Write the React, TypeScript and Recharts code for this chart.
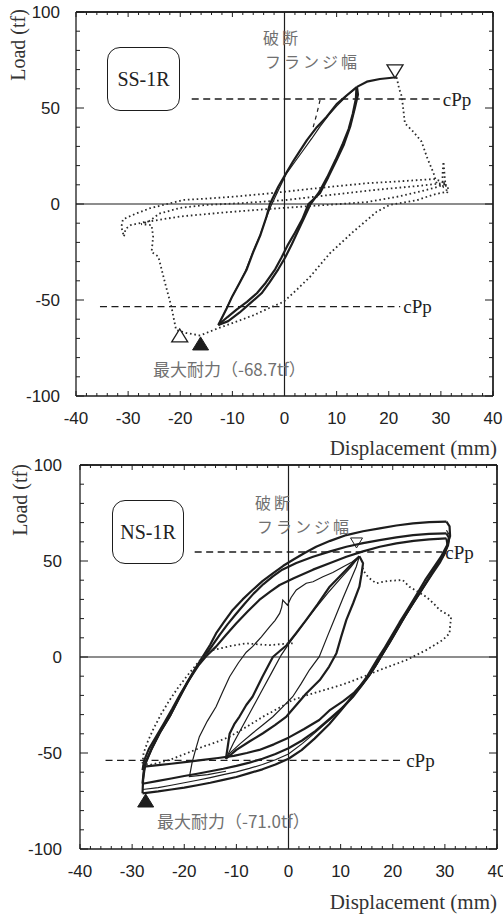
import React from 'react';
import { ScatterChart, Scatter, XAxis, YAxis, ReferenceLine } from 'recharts';

type Pair = [number, number];

// axis ticks (mm on x, tf on y)
const X_LABELS = [-40, -30, -20, -10, 0, 10, 20, 30, 40];
const Y_LABELS = [-100, -50, 0, 50, 100];
const X_TICKS: number[] = [];
for (let v = -40; v <= 40; v += 2) X_TICKS.push(v);
const Y_TICKS: number[] = [];
for (let v = -100; v <= 100; v += 10) Y_TICKS.push(v);
// corners of the frame, keeps the top / right axes alive
const FRAME: Pair[] = [[-40, -100], [40, 100]];

// ---------- SS-1R ----------
const ssUp1: Pair[] = [
  [-12.7, -63], [-11.2, -55], [-10, -48], [-8.6, -41], [-7.3, -34.4], [-6, -25], [-4.6, -16], [-3.5, -7],
  [-2.8, 0], [-1.2, 9], [0.3, 16], [1.6, 22], [2.8, 27], [4.3, 33.3], [6.2, 40], [8.1, 45.5], [10, 52],
  [11.9, 56.5], [13.9, 61],
];
const ssDown1: Pair[] = [
  [13.9, 61], [14.1, 57], [13.5, 50], [12.6, 40.3], [11.4, 31], [10, 22.9], [8.4, 14], [6.8, 5.6], [4.6, 0],
  [3.4, -8], [2, -15], [0.7, -21], [-0.6, -28], [-1.8, -34], [-3.6, -41], [-5.3, -46.5], [-7.2, -51],
  [-9.2, -55], [-11, -59], [-12.7, -63],
];
const ssUp2: Pair[] = [
  [-12.7, -63], [-11.4, -56], [-10.2, -49], [-8.8, -42], [-7.5, -35], [-6.2, -26], [-4.8, -17], [-3.6, -8],
  [-2.6, -1], [-1.2, 7], [0.4, 16], [2, 22], [3.6, 28], [5.2, 34], [6.8, 40.3], [8.4, 46], [10, 51],
  [12, 56.5], [13.8, 60.5],
];
const ssDown2: Pair[] = [
  [13.8, 60.5], [13.7, 55], [13.1, 47], [12.3, 39], [11.2, 31.5], [9.8, 23], [8.2, 14], [6.6, 6], [5, 0],
  [3.8, -7], [2.6, -14], [1.4, -21], [0.1, -28], [-1.2, -34], [-2.9, -41], [-4.4, -46.5], [-6.5, -51.5],
  [-8.6, -56.5], [-10.8, -61], [-12.7, -63],
];
const ssPeak: Pair[] = [[13.9, 61], [15.8, 63.7], [18.3, 65.1], [21.5, 66]];
const ssDash: Pair[] = [[5.5, 40], [6.2, 47], [6.9, 55]];
const ssAfterBreak: Pair[] = [
  [21.5, 66], [22, 60], [22.5, 56], [23.1, 42], [24.7, 37.7], [26.3, 32.5], [27.3, 24.6], [28.6, 16],
  [29.2, 10.8], [30.4, 9], [30.3, 15], [30.5, 22], [30.8, 12], [31.2, 5.5], [31.4, 9], [30, 12], [28.6, 13],
  [22, 11.8], [15.8, 10.8], [9, 9], [3, 7.3], [-3, 5.5], [-9.8, 3.8], [-15, 2.8], [-19.4, 2.1], [-22.5, 0],
  [-25.8, -2.2], [-28.5, -5], [-31, -8], [-31.3, -12], [-30.8, -17], [-30.5, -13], [-29.5, -11],
  [-27, -9.5], [-20, -6.5], [-12, -4.5], [-5, -3], [0, -2], [8, -0.5], [15.8, 1], [22, 4], [26, 6.5],
  [28.6, 8.3], [30.5, 10], [31, 11], [26, 9.5], [18, 7.5], [8, 4.5], [0, 2], [-8, 0.5], [-15, -0.5],
  [-20, -2], [-24, -5], [-26, -9], [-27.5, -10.5], [-25.5, -11], [-25.2, -17], [-25.5, -25], [-24.2, -27.4],
  [-22.9, -41.3], [-21.7, -53.5], [-20.8, -65.6], [-18.8, -67.2], [-16.2, -68.5], [-13, -65], [-9.8, -61.8],
  [-6, -58], [-2.8, -54], [-0.2, -51], [2.3, -44.8], [4.9, -37.9], [8.7, -25.7], [13.2, -14.4], [17.7, -4],
  [20.2, -0.5], [25.4, 2], [28.6, 4.9], [31.1, 6.4],
];
const ssCppUpper: Pair[] = [[-17.8, 54.7], [29.8, 54.7]];
const ssCppLower: Pair[] = [[-35.4, -53.5], [22.2, -53.5]];

// ---------- NS-1R ----------
const nsUp1: Pair[] = [
  [-28, -71], [-27.9, -64], [-27.5, -56], [-26.3, -48], [-24.8, -40], [-22.8, -31], [-21.2, -22.5],
  [-19.6, -14], [-18, -6.5], [-16.5, 0], [-15, 6.5], [-13.9, 12.3], [-12.3, 18.5], [-10.7, 24.5], [-8.8, 30],
  [-6.9, 34.9], [-5, 39.5], [-3, 43.6], [-1, 47.5], [0.8, 50.5], [3, 54], [5.3, 57.4], [8, 60.5],
  [11.1, 63.5], [14.3, 65.5], [17.5, 67], [20.7, 68.5], [23.9, 69.6], [27, 70.2], [30.3, 70.5],
];
const nsDown1: Pair[] = [
  [30.3, 70.5], [30.9, 68], [31, 63], [30.4, 58], [29.2, 52], [27.7, 46], [26.2, 40], [24.7, 33], [22.9, 25],
  [21.3, 18], [19.8, 11], [18.5, 5], [17.3, 0], [16.2, -5], [15, -10.5], [13.5, -16], [11.8, -22], [10, -28],
  [7.8, -35], [5, -42.5], [2.5, -48.5], [0, -53], [-2.5, -56], [-5, -58.5], [-7.5, -60.5], [-10, -62.5],
  [-12.5, -64], [-15, -65.5], [-17.5, -66.8], [-20, -68], [-22.5, -69], [-25, -70], [-28, -71],
];
const nsUp2: Pair[] = [
  [-28, -66], [-27.8, -60], [-27.3, -54], [-26.1, -47], [-24.6, -39], [-22.6, -30], [-21, -21.5],
  [-19.3, -13], [-17.7, -5.5], [-16.1, 0.5], [-14.6, 6], [-13.2, 11.5], [-11.7, 17], [-10.2, 22],
  [-8.5, 27.5], [-6.7, 33], [-4.8, 38], [-3, 42], [-1.2, 45.5], [1.5, 49], [4.7, 52.2], [8, 55],
  [11.1, 57.4], [14.3, 59.3], [17.5, 60.9], [20.7, 62.3], [23.9, 63.5], [27, 64.1], [30.3, 64.4],
];
const nsDown2: Pair[] = [
  [30.3, 64.4], [30.8, 62], [30.6, 58], [29.7, 53], [28.3, 47], [26.7, 40], [25.1, 33], [23.4, 26],
  [21.7, 18.5], [20.2, 11.5], [18.9, 5.5], [17.7, 0], [16.6, -5], [15.4, -10], [14, -15], [12.3, -21],
  [10.3, -26.5], [8, -32], [5.2, -38.5], [2.6, -43.5], [0, -47.5], [-2.5, -50.5], [-5, -53], [-7.5, -55],
  [-10, -56.7], [-12.5, -58.2], [-15, -59.5], [-17.5, -60.8], [-20, -62], [-22.5, -63.3], [-25, -64.5],
  [-28, -66],
];
const nsUp3: Pair[] = [
  [-28, -59], [-27.7, -54], [-26.8, -48], [-25.5, -42], [-24, -35], [-22.3, -27], [-20.7, -19], [-19, -11.5],
  [-17.3, -4.5], [-15.6, 1], [-13.9, 5.4], [-12, 11.5], [-10, 17.6], [-7.8, 23.8], [-5.6, 29.7], [-3.5, 34],
  [-1.7, 37.5], [1, 41], [4.7, 45.5], [8, 49], [11.1, 52.2], [14.3, 55], [17.5, 57.4], [20.7, 59.2],
  [24, 60.5], [27, 61.3], [30.3, 61.8],
];
const nsDown3: Pair[] = [
  [30.3, 61.8], [30.5, 58.5], [30, 54], [29, 49], [27.5, 43], [25.8, 36], [24.1, 29], [22.4, 21.5],
  [20.8, 14], [19.4, 7.5], [18, 1.5], [16.9, -3.5], [15.7, -8.5], [14.3, -13.5], [12.6, -18.5], [10.5, -23],
  [8, -27.5], [5.9, -32.8], [3, -37.5], [0, -42], [-2.8, -45.5], [-5.6, -48.4], [-8, -50], [-10.5, -51.5],
  [-13.5, -52.6], [-16.4, -53.6], [-19.5, -54.6], [-22.5, -55.6], [-25, -56.3], [-27.3, -57], [-28, -57],
];
const nsDown4: Pair[] = [
  [30.3, 66], [30.9, 63.5], [30.7, 59], [29.8, 54], [28.3, 48], [26.9, 41], [25.3, 34], [23.6, 26.5],
  [21.9, 19], [20.4, 12], [19.1, 6], [17.9, 0.5], [16.8, -4.5], [15.6, -9.5], [14.2, -14.5], [12.5, -20],
  [10.6, -25.5], [8.4, -31.5], [5.5, -38.5], [2.7, -45], [0, -50.5], [-2.5, -53.5], [-5, -56], [-7.5, -58],
  [-10, -59.8], [-12.5, -61.3], [-15, -62.8], [-17.5, -64.2], [-20, -65.5], [-22.5, -66.8], [-25, -68],
  [-28, -69],
];
const nsInnerUp1: Pair[] = [
  [-12, -53], [-11.3, -40], [-10.4, -35], [-9.4, -31], [-8.1, -25], [-6.9, -20.7], [-5, -10.3], [-3, 0],
  [-1.5, 3.5], [-0.4, 6], [1.5, 12.5], [3.4, 19.3], [5.6, 27.5], [7.9, 36.6], [10, 42.5], [12, 48],
  [13.6, 52.5],
];
const nsInnerDown1: Pair[] = [
  [13.6, 52.5], [14.3, 48.8], [14, 43], [13.6, 36.6], [12.4, 28], [11.1, 19.3], [10.1, 10.5], [9.2, 2],
  [7.8, -5], [6, -12], [3.4, -19], [1.5, -25], [-0.4, -31], [-2.6, -35.5], [-4.9, -39.7], [-7.5, -44],
  [-10, -48.4], [-12, -53],
];
const nsInnerDown2: Pair[] = [
  [13.6, 52.5], [13, 47], [11.9, 40], [10.5, 31], [9, 21], [7.5, 11], [5.9, 0.2], [4, -6.8], [2.4, -14],
  [0.8, -20.7], [-1.1, -26], [-3, -31.1], [-5, -35.5], [-6.9, -39.7], [-9.2, -45], [-11.3, -50.2], [-12, -53],
];
const nsInnerUp2: Pair[] = [
  [-12, -53], [-10.6, -45], [-9, -37], [-7.2, -28], [-5.2, -18], [-3.2, -8], [-1.4, 1], [0.6, 9], [2.8, 17],
  [5.2, 25.5], [7.6, 33.5], [10, 41], [12, 47], [13.6, 52.5],
];
const nsThin: Pair[] = [
  [-12, -59.5], [-15.5, -61.3], [-19, -62.3], [-18.5, -55], [-17.8, -48], [-17.1, -41.5], [-15.6, -33.5],
  [-13.9, -25.9], [-12.6, -18], [-11.3, -10.3], [-9.6, -3], [-8.1, 2.5], [-6.9, 5.4], [-5.2, 10.5],
  [-3.6, 15.8], [-2.6, 19], [-1.7, 22.7], [-1.3, 26], [-1.1, 29.7], [-0.2, 27], [0.5, 31], [1.5, 34.9],
  [3.4, 38.4], [4.7, 39.2], [6.6, 41.8], [8.5, 44], [10.5, 47], [12.2, 49.5], [13.6, 52.5],
];
const nsAfterBreak: Pair[] = [
  [14.3, 48.8], [14.3, 45.3], [15.3, 41.5], [16.8, 38.4], [19, 39.6], [21.9, 40.1], [23.2, 36.6], [24.8, 34],
  [26.4, 31.4], [27.8, 28], [29, 24.5], [31.2, 21], [31, 16], [30.9, 12.3], [29.6, 8.9], [28, 6.2],
  [26.4, 3.6], [24.5, 1], [22.6, -1.6], [20, -4.2], [17.5, -6.8], [14.3, -10.3], [11.1, -13.7], [8, -16.3],
  [4.7, -18.9], [0.8, -22.4], [-2, -26.8], [-4.9, -31.1], [-8, -36.3], [-11.3, -41.5], [-14, -44.5],
  [-16.4, -46.7], [-19.6, -50.2], [-22.8, -53.6], [-25, -55.2], [-26.7, -56.3], [-28, -55], [-27.8, -50],
  [-27, -44], [-26, -38], [-24.5, -30], [-22.8, -22.4], [-21.2, -16], [-19.6, -10.3], [-18, -5], [-16.4, 0.2],
  [-14.5, 3.6], [-11, 5.8], [-8.1, 7.1], [-5.5, 6.5], [-3.6, 6.2], [-1, 6.8], [0.8, 7.1],
];
const nsCppUpper: Pair[] = [[-18, 54.7], [29.5, 54.7]];
const nsCppLower: Pair[] = [[-35.1, -53.8], [22, -53.8]];

// markers: fracture (▽ / △) and maximum strength (▲)
const ssFracturePos: Pair = [21.2, 69.3];
const ssFractureNeg: Pair = [-20.1, -68.7];
const ssMaxLoad: Pair = [-16.1, -72.9];
const nsFracturePos: Pair = [13.05, 59.4];
const nsMaxLoad: Pair = [-27.4, -75];

const INK = '#1d1d1d';
const SERIF = '"Liberation Serif", "DejaVu Serif", serif';
const SANS = '"Liberation Sans", Arial, sans-serif';
const CJK = '"Noto Sans CJK JP", "Noto Sans CJK SC", sans-serif';

type Style = 'bold' | 'thin' | 'dotted' | 'dashed';
const LINE_STYLES: Record<Style, any> = {
  bold: { stroke: INK, strokeWidth: 2.2, fill: 'none', strokeLinejoin: 'round' },
  thin: { stroke: INK, strokeWidth: 1.2, fill: 'none' },
  dotted: { stroke: '#2a2a2a', strokeWidth: 1.8, strokeDasharray: '1.6 2.8', fill: 'none' },
  dashed: { stroke: INK, strokeWidth: 1.2, strokeDasharray: '4 4', fill: 'none' },
};

type MarkerKind = 'downOpen' | 'upOpen' | 'upFilled' | 'downSmall';

interface PanelConfig {
  height: number;
  plotLeft: number;
  plotRight: number;
  plotTop: number;
  plotBottom: number;
  yLabelGap: number;
  traces: { data: Pair[]; style: Style }[];
  cpp: Pair[][];
  markers: { at: Pair; kind: MarkerKind }[];
  name: string;
  box: { left: number; top: number; w: number; h: number };
  loadLabel: { cx: number; cy: number };
  dispLabelY: number;
  note: { left: number; top: number };
  maxNote: { left: number; top: number; text: string };
}

const toPts = (d: Pair[]) => d.map(([x, y]) => ({ x, y }));

function markerShape(kind: MarkerKind) {
  return (p: any) => {
    const { cx, cy } = p;
    if (kind === 'downOpen')
      return <polygon points={`${cx - 8},${cy - 6} ${cx + 8},${cy - 6} ${cx},${cy + 7}`} fill="#fff" stroke={INK} strokeWidth={1.3} />;
    if (kind === 'downSmall')
      return <polygon points={`${cx - 6},${cy - 5} ${cx + 6},${cy - 5} ${cx},${cy + 5}`} fill="none" stroke={INK} strokeWidth={1} />;
    if (kind === 'upOpen')
      return <polygon points={`${cx - 8},${cy + 6} ${cx + 8},${cy + 6} ${cx},${cy - 7}`} fill="#fff" stroke={INK} strokeWidth={1.3} />;
    return <polygon points={`${cx - 8},${cy + 6} ${cx + 8},${cy + 6} ${cx},${cy - 7}`} fill={INK} stroke={INK} strokeWidth={1} />;
  };
}

const noDot = () => <g />;

function Panel({ c }: { c: PanelConfig }) {
  const axisLine = { stroke: INK, strokeWidth: 1.3 };
  const bottomTick = (p: any) => {
    const v = p.payload.value;
    const major = X_LABELS.includes(v);
    return (
      <g>
        <line x1={p.x} x2={p.x} y1={p.y} y2={p.y - (major ? 5 : 3)} stroke={INK} strokeWidth={1} />
        {major && (
          <text x={p.x} y={p.y + 28} textAnchor="middle" fontFamily={SANS} fontSize={17} fill="#222">
            {v}
          </text>
        )}
      </g>
    );
  };
  const topTick = (p: any) => {
    const major = X_LABELS.includes(p.payload.value);
    return <line x1={p.x} x2={p.x} y1={p.y} y2={p.y + (major ? 5 : 3)} stroke={INK} strokeWidth={1} />;
  };
  const leftTick = (p: any) => {
    const v = p.payload.value;
    const major = Y_LABELS.includes(v);
    return (
      <g>
        <line x1={p.x} x2={p.x + (major ? 8 : 4)} y1={p.y} y2={p.y} stroke={INK} strokeWidth={1} />
        {major && (
          <text x={p.x - c.yLabelGap} y={p.y + 6} textAnchor="end" fontFamily={SANS} fontSize={17} fill="#222">
            {v}
          </text>
        )}
      </g>
    );
  };
  const rightTick = (p: any) => {
    const major = Y_LABELS.includes(p.payload.value);
    return <line x1={p.x} x2={p.x - (major ? 8 : 4)} y1={p.y} y2={p.y} stroke={INK} strokeWidth={1} />;
  };

  return (
    <div style={{ position: 'relative', width: 503, height: c.height }}>
      <ScatterChart
        width={503}
        height={c.height}
        margin={{ top: c.plotTop - 1, right: 503 - c.plotRight - 1, bottom: 0, left: 0 }}
      >
        <XAxis
          xAxisId="b" dataKey="x" type="number" orientation="bottom" domain={[-40, 40]} allowDataOverflow
          ticks={X_TICKS} interval={0} height={c.height - c.plotBottom} tickSize={0} tickMargin={0}
          tickLine={false} axisLine={axisLine} tick={bottomTick}
        />
        <XAxis
          xAxisId="t" dataKey="x" type="number" orientation="top" domain={[-40, 40]} allowDataOverflow
          ticks={X_TICKS} interval={0} height={1} tickSize={0} tickMargin={0}
          tickLine={false} axisLine={axisLine} tick={topTick}
        />
        <YAxis
          yAxisId="l" dataKey="y" type="number" orientation="left" domain={[-100, 100]} allowDataOverflow
          ticks={Y_TICKS} interval={0} width={c.plotLeft} tickSize={0} tickMargin={0}
          tickLine={false} axisLine={axisLine} tick={leftTick}
        />
        <YAxis
          yAxisId="r" dataKey="y" type="number" orientation="right" domain={[-100, 100]} allowDataOverflow
          ticks={Y_TICKS} interval={0} width={1} tickSize={0} tickMargin={0}
          tickLine={false} axisLine={axisLine} tick={rightTick}
        />
        <ReferenceLine xAxisId="b" yAxisId="l" x={0} stroke={INK} strokeWidth={1.2} />
        <ReferenceLine xAxisId="b" yAxisId="l" y={0} stroke={INK} strokeWidth={1.2} />
        <ReferenceLine xAxisId="b" yAxisId="l" x={40} stroke={INK} strokeWidth={1.3} />
        <ReferenceLine xAxisId="b" yAxisId="l" y={100} stroke={INK} strokeWidth={1.3} />
        <Scatter xAxisId="t" yAxisId="r" data={toPts(FRAME)} shape={noDot} isAnimationActive={false} />
        {c.cpp.map((seg, i) => (
          <ReferenceLine
            key={`cpp${i}`}
            xAxisId="b"
            yAxisId="l"
            segment={toPts(seg)}
            stroke={INK}
            strokeWidth={1.3}
            strokeDasharray="7 4.5"
            label={{ value: 'cPp', position: 'right', offset: 3, fill: '#222', fontSize: 19, fontFamily: SERIF }}
          />
        ))}
        {c.traces.map((t, i) => (
          <Scatter
            key={`tr${i}`}
            xAxisId="b"
            yAxisId="l"
            data={toPts(t.data)}
            line={LINE_STYLES[t.style]}
            lineType="joint"
            shape={noDot}
            isAnimationActive={false}
          />
        ))}
        {c.markers.map((m, i) => (
          <Scatter
            key={`mk${i}`}
            xAxisId="b"
            yAxisId="l"
            data={toPts([m.at])}
            shape={markerShape(m.kind)}
            isAnimationActive={false}
          />
        ))}
      </ScatterChart>

      <div
        style={{
          position: 'absolute', left: c.loadLabel.cx, top: c.loadLabel.cy,
          transform: 'translate(-50%, -50%) rotate(-90deg)', fontFamily: SERIF, fontSize: 20,
          color: '#333', whiteSpace: 'nowrap', lineHeight: 1,
        }}
      >
        Load (tf)
      </div>
      <div
        style={{
          position: 'absolute', right: 6, top: c.dispLabelY, transform: 'translateY(-50%)',
          fontFamily: SERIF, fontSize: 21, color: '#333', whiteSpace: 'nowrap', lineHeight: 1,
        }}
      >
        Displacement (mm)
      </div>
      <div
        style={{
          position: 'absolute', left: c.box.left, top: c.box.top, width: c.box.w, height: c.box.h,
          boxSizing: 'border-box', border: `1.5px solid ${INK}`, borderRadius: 13, background: '#fff',
          display: 'flex', alignItems: 'center', justifyContent: 'center',
          fontFamily: SERIF, fontSize: 20, color: '#222',
        }}
      >
        {c.name}
      </div>
      <div
        style={{
          position: 'absolute', left: c.note.left, top: c.note.top, fontFamily: CJK, fontSize: 16,
          letterSpacing: 3, color: '#707070', whiteSpace: 'nowrap', lineHeight: '23.5px',
        }}
      >
        破断
        <br />
        <span style={{ paddingLeft: 2 }}>フランジ幅</span>
      </div>
      <div
        style={{
          position: 'absolute', left: c.maxNote.left, top: c.maxNote.top, fontFamily: CJK, fontSize: 17,
          color: '#707070', whiteSpace: 'nowrap', lineHeight: 1,
        }}
      >
        {c.maxNote.text}
      </div>
    </div>
  );
}

const SS_PANEL: PanelConfig = {
  height: 450,
  plotLeft: 76,
  plotRight: 493,
  plotTop: 12,
  plotBottom: 396,
  yLabelGap: 16,
  traces: [
    { data: ssUp1, style: 'bold' },
    { data: ssDown1, style: 'bold' },
    { data: ssUp2, style: 'thin' },
    { data: ssDown2, style: 'bold' },
    { data: ssPeak, style: 'bold' },
    { data: ssDash, style: 'dashed' },
    { data: ssAfterBreak, style: 'dotted' },
  ],
  cpp: [ssCppUpper, ssCppLower],
  markers: [
    { at: ssFracturePos, kind: 'downOpen' },
    { at: ssFractureNeg, kind: 'upOpen' },
    { at: ssMaxLoad, kind: 'upFilled' },
  ],
  name: 'SS-1R',
  box: { left: 107, top: 47, w: 73, h: 64 },
  loadLabel: { cx: 18, cy: 45 },
  dispLabelY: 448,
  note: { left: 263, top: 26 },
  maxNote: { left: 153, top: 360, text: '最大耐力（-68.7tf）' },
};

const NS_PANEL: PanelConfig = {
  height: 464,
  plotLeft: 80,
  plotRight: 497,
  plotTop: 15,
  plotBottom: 399,
  yLabelGap: 18,
  traces: [
    { data: nsUp1, style: 'bold' },
    { data: nsDown1, style: 'bold' },
    { data: nsUp2, style: 'bold' },
    { data: nsDown2, style: 'bold' },
    { data: nsUp3, style: 'bold' },
    { data: nsDown3, style: 'bold' },
    { data: nsDown4, style: 'thin' },
    { data: nsInnerUp1, style: 'bold' },
    { data: nsInnerDown1, style: 'bold' },
    { data: nsInnerDown2, style: 'thin' },
    { data: nsInnerUp2, style: 'thin' },
    { data: nsThin, style: 'thin' },
    { data: nsAfterBreak, style: 'dotted' },
  ],
  cpp: [nsCppUpper, nsCppLower],
  markers: [
    { at: nsFracturePos, kind: 'downSmall' },
    { at: nsMaxLoad, kind: 'upFilled' },
  ],
  name: 'NS-1R',
  box: { left: 112, top: 50, w: 72, h: 64 },
  loadLabel: { cx: 20, cy: 50 },
  dispLabelY: 452,
  note: { left: 255, top: 41 },
  maxNote: { left: 157, top: 362, text: '最大耐力（-71.0tf）' },
};

export default function App() {
  return (
    <div style={{ position: 'absolute', left: 0, top: 0, width: 503, height: 914, background: '#fff' }}>
      <Panel c={SS_PANEL} />
      <Panel c={NS_PANEL} />
    </div>
  );
}
